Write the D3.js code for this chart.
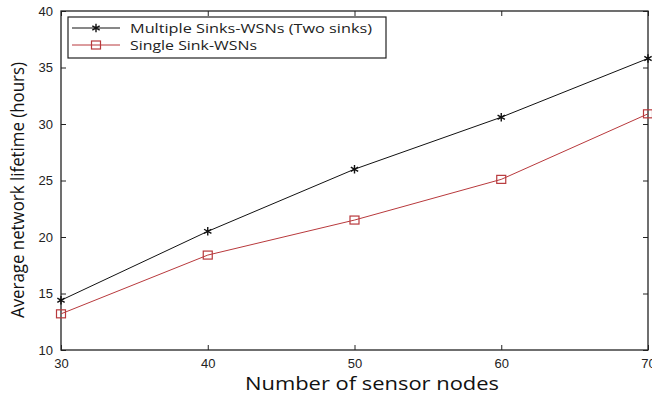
<!DOCTYPE html>
<html>
<head>
<meta charset="utf-8">
<script src="https://cdn.jsdelivr.net/npm/d3@7"></script>
<style>
  body { margin: 0; background: #fff; }
  svg { display: block; }
</style>
</head>
<body>
<div id="chart"></div>
<script>
// data
var nodes = [30, 40, 50, 60, 70];
var multiSink = [14.4, 20.5, 26.0, 30.6, 35.8];
var singleSink = [13.2, 18.4, 21.5, 25.1, 30.9];
var seriesNames = ["Multiple Sinks-WSNs (Two sinks)", "Single Sink-WSNs"];
var yTicks = [10, 15, 20, 25, 30, 35, 40];

var svgWidth = 652;
var svgHeight = 397;
var margin = { top: 11, right: 4, bottom: 47, left: 61 };
var width = svgWidth - margin.left - margin.right;
var height = svgHeight - margin.top - margin.bottom;

var svg = d3.select("#chart")
  .append("svg")
  .attr("width", svgWidth)
  .attr("height", svgHeight);

var chartGroup = svg.append("g")
  .attr("transform", `translate(${margin.left}, ${margin.top})`);

var xScale = d3.scaleLinear().domain([30, 70]).range([0, width]);
var yScale = d3.scaleLinear().domain([10, 40]).range([height, 0]);

var tickFont = "Liberation Sans, Arial, sans-serif";

// axes, ticks pointing inward (matlab style, mirrored)
function styleAxis(g) {
  g.select(".domain").remove();
  g.selectAll("line").attr("stroke", "#222");
  g.selectAll("text").attr("font-family", tickFont).attr("font-size", "13px").attr("fill", "#222");
}

chartGroup.append("g")
  .attr("transform", `translate(0, ${height})`)
  .call(d3.axisBottom(xScale).tickValues(nodes).tickSize(-5).tickPadding(9).tickFormat(d3.format("d")))
  .call(styleAxis);

chartGroup.append("g")
  .call(d3.axisTop(xScale).tickValues(nodes).tickSize(-5).tickFormat(""))
  .call(styleAxis);

chartGroup.append("g")
  .call(d3.axisLeft(yScale).tickValues(yTicks).tickSize(-5).tickPadding(8))
  .call(styleAxis);

chartGroup.append("g")
  .attr("transform", `translate(${width}, 0)`)
  .call(d3.axisRight(yScale).tickValues(yTicks).tickSize(-5).tickFormat(""))
  .call(styleAxis);

chartGroup.append("rect")
  .attr("width", width)
  .attr("height", height)
  .attr("fill", "none")
  .attr("stroke", "#222")
  .attr("stroke-width", 1.3);

var redColor = "#b8393c";

var line = d3.line()
  .x(d => xScale(d[0]))
  .y(d => yScale(d[1]));

var multiData = nodes.map((n, i) => [n, multiSink[i]]);
var singleData = nodes.map((n, i) => [n, singleSink[i]]);

chartGroup.append("path")
  .datum(multiData)
  .attr("d", line)
  .attr("fill", "none")
  .attr("stroke", "#111")
  .attr("stroke-width", 1);

chartGroup.append("path")
  .datum(singleData)
  .attr("d", line)
  .attr("fill", "none")
  .attr("stroke", redColor)
  .attr("stroke-width", 1);

var starPath = d3.symbol().type(d3.symbolAsterisk).size(50);

function drawStar(g, x, y) {
  g.append("path")
    .attr("transform", `translate(${x}, ${y})`)
    .attr("d", starPath())
    .attr("fill", "none")
    .attr("stroke", "#111")
    .attr("stroke-width", 1.4);
}

function drawSquare(g, x, y) {
  g.append("rect")
    .attr("x", x - 4.5)
    .attr("y", y - 4)
    .attr("width", 9)
    .attr("height", 8)
    .attr("fill", "none")
    .attr("stroke", redColor)
    .attr("stroke-width", 1.2);
}

multiData.forEach(d => drawStar(chartGroup, xScale(d[0]), yScale(d[1])));
singleData.forEach(d => drawSquare(chartGroup, xScale(d[0]), yScale(d[1])));

// legend
var legend = svg.append("g");
legend.append("rect")
  .attr("x", 68)
  .attr("y", 17)
  .attr("width", 318)
  .attr("height", 41)
  .attr("fill", "#fff")
  .attr("stroke", "#222")
  .attr("stroke-width", 1.2);

var legendLengths = [242, 127];
[28, 45].forEach(function(ly, i) {
  legend.append("line")
    .attr("x1", 72).attr("x2", 120)
    .attr("y1", ly).attr("y2", ly)
    .attr("stroke", i == 0 ? "#111" : redColor)
    .attr("stroke-width", 1);
  if (i == 0) drawStar(legend, 96, ly);
  else drawSquare(legend, 96, ly);
  legend.append("text")
    .attr("x", 130)
    .attr("y", ly + 5)
    .attr("font-family", "Open Sans, sans-serif")
    .attr("font-size", "12.5px")
    .attr("fill", "#222")
    .attr("textLength", legendLengths[i])
    .attr("lengthAdjust", "spacingAndGlyphs")
    .text(seriesNames[i]);
});

// axis labels
svg.append("text")
  .attr("x", 372)
  .attr("y", 390)
  .attr("text-anchor", "middle")
  .attr("font-family", "Open Sans, sans-serif")
  .attr("font-size", "18.5px")
  .attr("fill", "#111")
  .attr("textLength", 254)
  .attr("lengthAdjust", "spacingAndGlyphs")
  .text("Number of sensor nodes");

svg.append("text")
  .attr("transform", "translate(24, 190) rotate(-90)")
  .attr("text-anchor", "middle")
  .attr("font-family", "Open Sans, sans-serif")
  .attr("font-size", "18px")
  .attr("fill", "#111")
  .attr("textLength", 256)
  .attr("lengthAdjust", "spacingAndGlyphs")
  .text("Average network lifetime (hours)");
</script>
</body>
</html>
